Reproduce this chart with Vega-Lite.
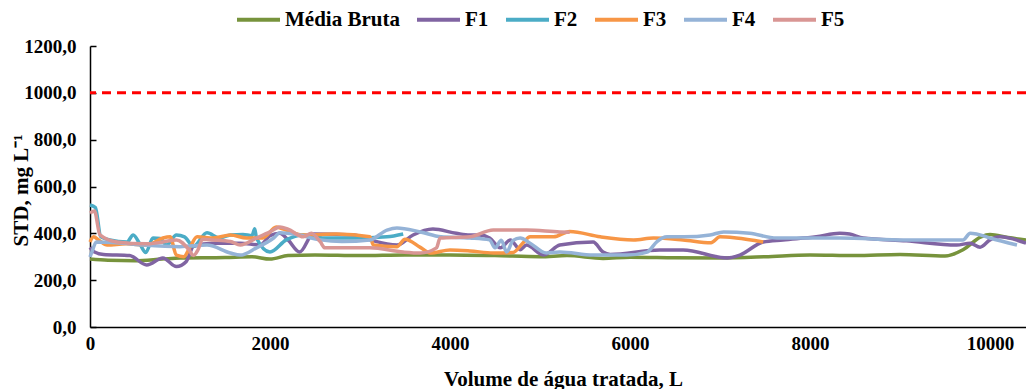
{
  "$schema": "https://vega.github.io/schema/vega-lite/v6.json",
  "width": 936,
  "height": 281,
  "autosize": {"type": "none"},
  "padding": {"left": 90, "top": 46, "right": 0, "bottom": 62},
  "background": "white",
  "config": {
    "view": {"stroke": null},
    "font": "Liberation Serif",
    "axis": {
      "labelFont": "Liberation Serif",
      "labelFontWeight": "bold",
      "labelFontSize": 19,
      "labelColor": "#000000",
      "titleFont": "Liberation Serif",
      "titleFontWeight": "bold",
      "titleFontSize": 21,
      "titleColor": "#000000",
      "domainColor": "#000000",
      "domainWidth": 1.5,
      "tickColor": "#000000",
      "tickWidth": 1.5,
      "grid": false
    }
  },
  "layer": [
    {
      "data": {"values": [{"limite": 1000}]},
      "mark": {"type": "rule", "color": "#ff0000", "strokeWidth": 3, "strokeDash": [9, 6]},
      "encoding": {
        "y": {"field": "limite", "type": "quantitative", "scale": {"domain": [0, 1200], "nice": false}}
      }
    },
    {
      "data": {"values": [
        {"serie": "Média Bruta", "v": 0, "std": 290},
        {"serie": "Média Bruta", "v": 200, "std": 285},
        {"serie": "Média Bruta", "v": 500, "std": 283},
        {"serie": "Média Bruta", "v": 800, "std": 290},
        {"serie": "Média Bruta", "v": 1000, "std": 295},
        {"serie": "Média Bruta", "v": 1500, "std": 297},
        {"serie": "Média Bruta", "v": 1800, "std": 300},
        {"serie": "Média Bruta", "v": 2000, "std": 290},
        {"serie": "Média Bruta", "v": 2200, "std": 305},
        {"serie": "Média Bruta", "v": 2500, "std": 308},
        {"serie": "Média Bruta", "v": 3000, "std": 305},
        {"serie": "Média Bruta", "v": 3500, "std": 308},
        {"serie": "Média Bruta", "v": 4000, "std": 308},
        {"serie": "Média Bruta", "v": 4500, "std": 305},
        {"serie": "Média Bruta", "v": 5000, "std": 300},
        {"serie": "Média Bruta", "v": 5300, "std": 305},
        {"serie": "Média Bruta", "v": 5700, "std": 293},
        {"serie": "Média Bruta", "v": 6000, "std": 298},
        {"serie": "Média Bruta", "v": 6500, "std": 296},
        {"serie": "Média Bruta", "v": 7000, "std": 295},
        {"serie": "Média Bruta", "v": 7500, "std": 300},
        {"serie": "Média Bruta", "v": 8000, "std": 308},
        {"serie": "Média Bruta", "v": 8500, "std": 305},
        {"serie": "Média Bruta", "v": 9000, "std": 310},
        {"serie": "Média Bruta", "v": 9500, "std": 303},
        {"serie": "Média Bruta", "v": 9700, "std": 330},
        {"serie": "Média Bruta", "v": 9900, "std": 385},
        {"serie": "Média Bruta", "v": 10000, "std": 395},
        {"serie": "Média Bruta", "v": 10200, "std": 382},
        {"serie": "Média Bruta", "v": 10400, "std": 372},

        {"serie": "F1", "v": 0, "std": 340},
        {"serie": "F1", "v": 50, "std": 320},
        {"serie": "F1", "v": 150, "std": 310},
        {"serie": "F1", "v": 440, "std": 305},
        {"serie": "F1", "v": 630, "std": 265},
        {"serie": "F1", "v": 810, "std": 295},
        {"serie": "F1", "v": 960, "std": 258},
        {"serie": "F1", "v": 1070, "std": 280},
        {"serie": "F1", "v": 1150, "std": 345},
        {"serie": "F1", "v": 1370, "std": 358},
        {"serie": "F1", "v": 1670, "std": 358},
        {"serie": "F1", "v": 1890, "std": 350},
        {"serie": "F1", "v": 2000, "std": 390},
        {"serie": "F1", "v": 2110, "std": 400},
        {"serie": "F1", "v": 2200, "std": 372},
        {"serie": "F1", "v": 2330, "std": 320},
        {"serie": "F1", "v": 2480, "std": 397},
        {"serie": "F1", "v": 2930, "std": 393},
        {"serie": "F1", "v": 3110, "std": 372},
        {"serie": "F1", "v": 3410, "std": 350},
        {"serie": "F1", "v": 3590, "std": 393},
        {"serie": "F1", "v": 3810, "std": 418},
        {"serie": "F1", "v": 4070, "std": 400},
        {"serie": "F1", "v": 4220, "std": 393},
        {"serie": "F1", "v": 4330, "std": 393},
        {"serie": "F1", "v": 4440, "std": 380},
        {"serie": "F1", "v": 4560, "std": 338},
        {"serie": "F1", "v": 4670, "std": 372},
        {"serie": "F1", "v": 4780, "std": 330},
        {"serie": "F1", "v": 4850, "std": 350},
        {"serie": "F1", "v": 5040, "std": 307},
        {"serie": "F1", "v": 5220, "std": 350},
        {"serie": "F1", "v": 5590, "std": 363},
        {"serie": "F1", "v": 5700, "std": 320},
        {"serie": "F1", "v": 5780, "std": 310},
        {"serie": "F1", "v": 6330, "std": 329},
        {"serie": "F1", "v": 6590, "std": 329},
        {"serie": "F1", "v": 7080, "std": 295},
        {"serie": "F1", "v": 7220, "std": 307},
        {"serie": "F1", "v": 7480, "std": 363},
        {"serie": "F1", "v": 7700, "std": 372},
        {"serie": "F1", "v": 8070, "std": 385},
        {"serie": "F1", "v": 8330, "std": 400},
        {"serie": "F1", "v": 8440, "std": 397},
        {"serie": "F1", "v": 8590, "std": 380},
        {"serie": "F1", "v": 9070, "std": 368},
        {"serie": "F1", "v": 9630, "std": 350},
        {"serie": "F1", "v": 9780, "std": 358},
        {"serie": "F1", "v": 9890, "std": 341},
        {"serie": "F1", "v": 10000, "std": 372},
        {"serie": "F1", "v": 10110, "std": 385},
        {"serie": "F1", "v": 10400, "std": 358},

        {"serie": "F2", "v": 0, "std": 521},
        {"serie": "F2", "v": 60, "std": 510},
        {"serie": "F2", "v": 120, "std": 385},
        {"serie": "F2", "v": 220, "std": 372},
        {"serie": "F2", "v": 410, "std": 363},
        {"serie": "F2", "v": 480, "std": 393},
        {"serie": "F2", "v": 560, "std": 350},
        {"serie": "F2", "v": 620, "std": 318},
        {"serie": "F2", "v": 700, "std": 380},
        {"serie": "F2", "v": 780, "std": 378},
        {"serie": "F2", "v": 850, "std": 350},
        {"serie": "F2", "v": 960, "std": 393},
        {"serie": "F2", "v": 1050, "std": 385},
        {"serie": "F2", "v": 1150, "std": 345},
        {"serie": "F2", "v": 1300, "std": 402},
        {"serie": "F2", "v": 1440, "std": 380},
        {"serie": "F2", "v": 1560, "std": 393},
        {"serie": "F2", "v": 1700, "std": 395},
        {"serie": "F2", "v": 1800, "std": 390},
        {"serie": "F2", "v": 1830, "std": 420},
        {"serie": "F2", "v": 1850, "std": 380},
        {"serie": "F2", "v": 2000, "std": 320},
        {"serie": "F2", "v": 2180, "std": 372},
        {"serie": "F2", "v": 2370, "std": 393},
        {"serie": "F2", "v": 2600, "std": 380},
        {"serie": "F2", "v": 2930, "std": 380},
        {"serie": "F2", "v": 3300, "std": 385},
        {"serie": "F2", "v": 3480, "std": 397},

        {"serie": "F3", "v": 0, "std": 363},
        {"serie": "F3", "v": 40, "std": 385},
        {"serie": "F3", "v": 100, "std": 370},
        {"serie": "F3", "v": 190, "std": 350},
        {"serie": "F3", "v": 400, "std": 355},
        {"serie": "F3", "v": 630, "std": 350},
        {"serie": "F3", "v": 810, "std": 380},
        {"serie": "F3", "v": 890, "std": 385},
        {"serie": "F3", "v": 960, "std": 307},
        {"serie": "F3", "v": 1040, "std": 300},
        {"serie": "F3", "v": 1110, "std": 340},
        {"serie": "F3", "v": 1190, "std": 385},
        {"serie": "F3", "v": 1370, "std": 380},
        {"serie": "F3", "v": 1560, "std": 393},
        {"serie": "F3", "v": 1740, "std": 380},
        {"serie": "F3", "v": 1920, "std": 380},
        {"serie": "F3", "v": 2070, "std": 427},
        {"serie": "F3", "v": 2150, "std": 418},
        {"serie": "F3", "v": 2370, "std": 393},
        {"serie": "F3", "v": 2740, "std": 397},
        {"serie": "F3", "v": 3110, "std": 385},
        {"serie": "F3", "v": 3150, "std": 350},
        {"serie": "F3", "v": 3410, "std": 343},
        {"serie": "F3", "v": 3500, "std": 375},
        {"serie": "F3", "v": 3670, "std": 340},
        {"serie": "F3", "v": 3780, "std": 316},
        {"serie": "F3", "v": 4000, "std": 329},
        {"serie": "F3", "v": 4220, "std": 325},
        {"serie": "F3", "v": 4480, "std": 316},
        {"serie": "F3", "v": 4700, "std": 318},
        {"serie": "F3", "v": 4810, "std": 359},
        {"serie": "F3", "v": 4890, "std": 385},
        {"serie": "F3", "v": 5150, "std": 385},
        {"serie": "F3", "v": 5330, "std": 408},
        {"serie": "F3", "v": 5670, "std": 385},
        {"serie": "F3", "v": 6040, "std": 372},
        {"serie": "F3", "v": 6260, "std": 380},
        {"serie": "F3", "v": 6590, "std": 372},
        {"serie": "F3", "v": 6900, "std": 360},
        {"serie": "F3", "v": 7000, "std": 385},
        {"serie": "F3", "v": 7180, "std": 380},
        {"serie": "F3", "v": 7480, "std": 363},

        {"serie": "F4", "v": 0, "std": 299},
        {"serie": "F4", "v": 30, "std": 330},
        {"serie": "F4", "v": 70, "std": 363},
        {"serie": "F4", "v": 300, "std": 360},
        {"serie": "F4", "v": 600, "std": 350},
        {"serie": "F4", "v": 1000, "std": 343},
        {"serie": "F4", "v": 1300, "std": 350},
        {"serie": "F4", "v": 1560, "std": 316},
        {"serie": "F4", "v": 1670, "std": 307},
        {"serie": "F4", "v": 1850, "std": 338},
        {"serie": "F4", "v": 2040, "std": 380},
        {"serie": "F4", "v": 2110, "std": 402},
        {"serie": "F4", "v": 2300, "std": 395},
        {"serie": "F4", "v": 2560, "std": 372},
        {"serie": "F4", "v": 2800, "std": 365},
        {"serie": "F4", "v": 3110, "std": 372},
        {"serie": "F4", "v": 3300, "std": 414},
        {"serie": "F4", "v": 3410, "std": 423},
        {"serie": "F4", "v": 3670, "std": 406},
        {"serie": "F4", "v": 3900, "std": 385},
        {"serie": "F4", "v": 4220, "std": 380},
        {"serie": "F4", "v": 4440, "std": 372},
        {"serie": "F4", "v": 4500, "std": 338},
        {"serie": "F4", "v": 4570, "std": 370},
        {"serie": "F4", "v": 4630, "std": 320},
        {"serie": "F4", "v": 4700, "std": 370},
        {"serie": "F4", "v": 4780, "std": 380},
        {"serie": "F4", "v": 4890, "std": 358},
        {"serie": "F4", "v": 5070, "std": 316},
        {"serie": "F4", "v": 5220, "std": 320},
        {"serie": "F4", "v": 5590, "std": 307},
        {"serie": "F4", "v": 5960, "std": 307},
        {"serie": "F4", "v": 6190, "std": 320},
        {"serie": "F4", "v": 6300, "std": 365},
        {"serie": "F4", "v": 6410, "std": 385},
        {"serie": "F4", "v": 6600, "std": 385},
        {"serie": "F4", "v": 6890, "std": 393},
        {"serie": "F4", "v": 7040, "std": 406},
        {"serie": "F4", "v": 7330, "std": 400},
        {"serie": "F4", "v": 7630, "std": 380},
        {"serie": "F4", "v": 7900, "std": 380},
        {"serie": "F4", "v": 8330, "std": 380},
        {"serie": "F4", "v": 9070, "std": 372},
        {"serie": "F4", "v": 9700, "std": 372},
        {"serie": "F4", "v": 9780, "std": 400},
        {"serie": "F4", "v": 9850, "std": 397},
        {"serie": "F4", "v": 10000, "std": 380},
        {"serie": "F4", "v": 10300, "std": 350},

        {"serie": "F5", "v": 0, "std": 487},
        {"serie": "F5", "v": 50, "std": 495},
        {"serie": "F5", "v": 110, "std": 393},
        {"serie": "F5", "v": 300, "std": 363},
        {"serie": "F5", "v": 630, "std": 355},
        {"serie": "F5", "v": 810, "std": 363},
        {"serie": "F5", "v": 960, "std": 372},
        {"serie": "F5", "v": 1100, "std": 330},
        {"serie": "F5", "v": 1150, "std": 305},
        {"serie": "F5", "v": 1200, "std": 330},
        {"serie": "F5", "v": 1250, "std": 375},
        {"serie": "F5", "v": 1370, "std": 372},
        {"serie": "F5", "v": 1560, "std": 365},
        {"serie": "F5", "v": 1670, "std": 350},
        {"serie": "F5", "v": 1850, "std": 380},
        {"serie": "F5", "v": 2000, "std": 406},
        {"serie": "F5", "v": 2110, "std": 427},
        {"serie": "F5", "v": 2200, "std": 418},
        {"serie": "F5", "v": 2370, "std": 385},
        {"serie": "F5", "v": 2460, "std": 400},
        {"serie": "F5", "v": 2560, "std": 363},
        {"serie": "F5", "v": 2610, "std": 338},
        {"serie": "F5", "v": 2740, "std": 338},
        {"serie": "F5", "v": 3110, "std": 338},
        {"serie": "F5", "v": 3480, "std": 320},
        {"serie": "F5", "v": 3670, "std": 316},
        {"serie": "F5", "v": 3850, "std": 338},
        {"serie": "F5", "v": 3890, "std": 380},
        {"serie": "F5", "v": 4220, "std": 385},
        {"serie": "F5", "v": 4480, "std": 414},
        {"serie": "F5", "v": 4850, "std": 414},
        {"serie": "F5", "v": 5220, "std": 406},
        {"serie": "F5", "v": 5330, "std": 405}
      ]},
      "mark": {"type": "line", "interpolate": "monotone", "strokeWidth": 3.5},
      "encoding": {
        "x": {
          "field": "v", "type": "quantitative",
          "scale": {"domain": [0, 10400], "nice": false},
          "axis": {
            "title": "Volume de água tratada, L",
            "values": [0, 2000, 4000, 6000, 8000, 10000],
            "format": "d",
            "ticks": false,
            "labelPadding": 7,
            "labelFlush": false,
            "titleX": 473,
            "titleY": 52,
            "titleBaseline": "middle"
          }
        },
        "y": {
          "field": "std", "type": "quantitative",
          "scale": {"domain": [0, 1200], "nice": false},
          "axis": {
            "title": "STD, mg L⁻¹",
            "values": [0, 100, 200, 300, 400, 500, 600, 700, 800, 900, 1000, 1100, 1200],
            "labelExpr": "datum.value % 200 === 0 ? replace(format(datum.value, '.1f'), '.', ',') : ''",
            "tickSize": -6,
            "labelPadding": 20,
            "titleX": -69,
            "titleY": 144,
            "titleAngle": -90,
            "titleBaseline": "middle",
            "titleAlign": "center"
          }
        },
        "color": {
          "field": "serie", "type": "nominal",
          "scale": {
            "domain": ["Média Bruta", "F1", "F2", "F3", "F4", "F5"],
            "range": ["#77933c", "#8064a2", "#4bacc6", "#f79646", "#95b3d7", "#d99694"]
          },
          "legend": {
            "title": null,
            "orient": "none",
            "direction": "horizontal",
            "legendX": 145,
            "legendY": -50,
            "symbolType": "stroke",
            "symbolSize": 1849,
            "symbolStrokeWidth": 4,
            "labelFont": "Liberation Serif",
            "labelFontWeight": "bold",
            "labelFontSize": 21,
            "labelColor": "#000000",
            "labelOffset": 3,
            "labelLimit": 300,
            "columnPadding": 9
          }
        }
      }
    }
  ]
}
